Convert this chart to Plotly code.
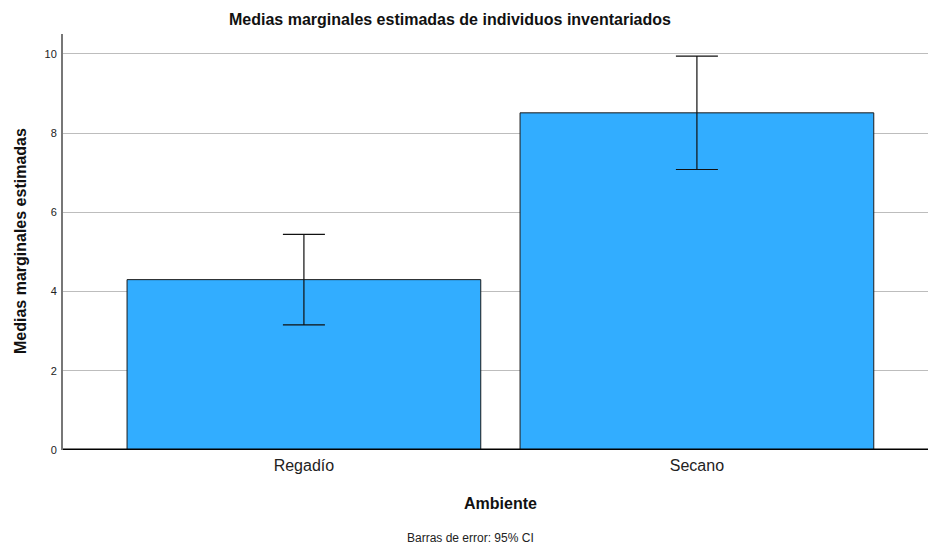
import plotly.graph_objects as go

# Estimated marginal means by environment, with 95% CI limits
ambientes = ["Regadío", "Secano"]
medias = [4.30, 8.51]
ic_sup = [5.44, 9.94]
ic_inf = [3.16, 7.08]

err_plus = [s - m for s, m in zip(ic_sup, medias)]
err_minus = [m - i for m, i in zip(medias, ic_inf)]

x_idx = [0, 1]

fig = go.Figure()
fig.add_trace(go.Bar(
    x=x_idx,
    y=medias,
    width=0.9,
    marker=dict(color="#32ADFF", line=dict(color="#1a1a1a", width=1)),
    error_y=dict(
        type="data",
        symmetric=False,
        array=err_plus,
        arrayminus=err_minus,
        color="#111111",
        thickness=1.2,
        width=21,
    ),
    hoverinfo="skip",
))

fig.update_layout(
    width=928,
    height=544,
    margin=dict(l=63, r=0, t=34, b=94),
    paper_bgcolor="white",
    plot_bgcolor="white",
    showlegend=False,
    font=dict(family="Liberation Sans, Arial, sans-serif", color="#222222"),
    xaxis=dict(
        range=[-0.613, 1.588],
        tickmode="array",
        tickvals=x_idx,
        ticktext=ambientes,
        tickfont=dict(size=16, color="#222222"),
        ticklabelstandoff=4,
        showgrid=False,
        zeroline=False,
        showline=False,
        ticks="",
        fixedrange=True,
    ),
    yaxis=dict(
        range=[0, 10.5],
        tickvals=[0, 2, 4, 6, 8, 10],
        tickfont=dict(size=11, color="#222222"),
        ticklabelstandoff=2,
        showgrid=True,
        gridcolor="#bdbdbd",
        gridwidth=1,
        zeroline=False,
        showline=True,
        linecolor="#777777",
        linewidth=2,
        ticks="",
        ticklen=0,
        fixedrange=True,
    ),
    shapes=[
        dict(type="line", xref="paper", yref="y", x0=0, x1=1, y0=0, y1=0,
             line=dict(color="black", width=3)),
    ],
    annotations=[
        dict(text="<b>Medias marginales estimadas de individuos inventariados</b>",
             xref="paper", yref="paper", x=(450 - 63) / 865, y=1 + (34 - 19) / 416,
             xanchor="center", yanchor="middle", showarrow=False,
             font=dict(size=16, color="#111111")),
        dict(text="<b>Ambiente</b>",
             xref="paper", yref="paper", x=(500 - 63) / 865, y=-(503 - 450) / 416,
             xanchor="center", yanchor="middle", showarrow=False,
             font=dict(size=16, color="#111111")),
        dict(text="Barras de error: 95% CI",
             xref="paper", yref="paper", x=(470 - 63) / 865, y=-(538 - 450) / 416,
             xanchor="center", yanchor="middle", showarrow=False,
             font=dict(size=12, color="#222222")),
        dict(text="<b>Medias marginales estimadas</b>",
             xref="paper", yref="paper", x=-(63 - 20) / 865, y=(450 - 241) / 416,
             xanchor="center", yanchor="middle", showarrow=False, textangle=-90,
             font=dict(size=16, color="#111111")),
    ],
)

fig.write_html("out.html")
